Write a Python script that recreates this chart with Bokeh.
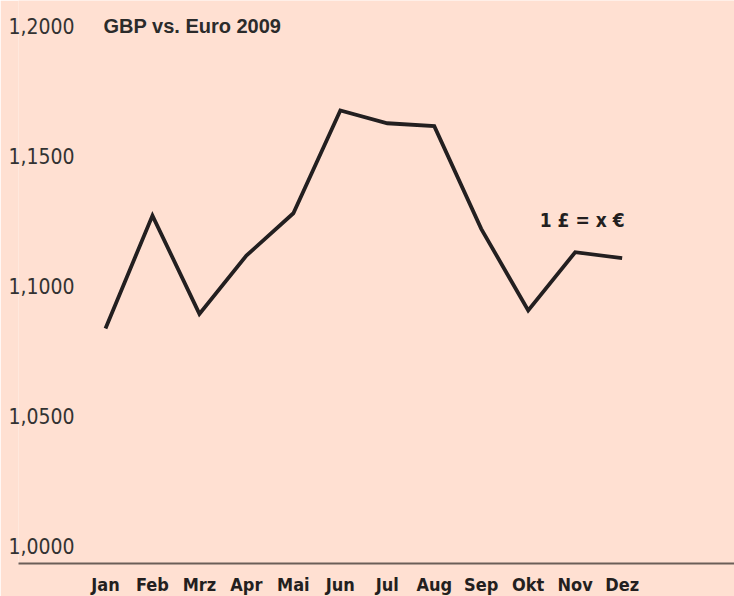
from bokeh.plotting import figure
from bokeh.models import Range1d, FixedTicker, Label
from bokeh.embed import file_html
from bokeh.resources import INLINE

months = ["Jan", "Feb", "Mrz", "Apr", "Mai", "Jun", "Jul", "Aug", "Sep", "Okt", "Nov", "Dez"]
rates = [1.0835, 1.1269, 1.0891, 1.1115, 1.1278, 1.1673, 1.1624, 1.1613, 1.1218, 1.0904, 1.1128, 1.1105]
y_ticks = [1.0, 1.05, 1.10, 1.15, 1.20]
y_tick_labels = ["1,0000", "1,0500", "1,1000", "1,1500", "1,2000"]
title_text = "GBP vs. Euro 2009"
series_label = "1 £ = x €"

BG = "#FFE0D2"
INK = "#231F20"
NARROW = "'DejaVu Sans Condensed', 'Roboto Condensed', 'DejaVu Sans'"

x_idx = list(range(len(months)))

p = figure(
    frame_width=716, frame_height=563,
    x_range=Range1d(-1.852, 13.392),
    y_range=Range1d(0.99308, 1.20962),
    output_backend="svg", toolbar_location=None,
    background_fill_color=BG, border_fill_color=BG,
    min_border_left=18, min_border_right=0, min_border_top=0, min_border_bottom=0,
)
p.outline_line_color = None
p.grid.visible = False

p.line(x_idx, rates, line_color=INK, line_width=3.8, line_join="miter")

# x axis
p.xaxis.ticker = FixedTicker(ticks=x_idx)
p.xaxis.major_label_overrides = {i: m for i, m in zip(x_idx, months)}
p.xaxis.axis_line_color = "#6B5E58"
p.xaxis.axis_line_width = 2
p.xaxis.major_tick_line_color = None
p.xaxis.minor_tick_line_color = None
p.xaxis.major_tick_out = 0
p.xaxis.major_tick_in = 0
p.xaxis.major_label_standoff = 10
p.xaxis.major_label_text_font = NARROW
p.xaxis.major_label_text_font_style = "bold"
p.xaxis.major_label_text_font_size = "18px"
p.xaxis.major_label_text_color = INK

# y axis (labels drawn inside the frame)
p.yaxis.ticker = FixedTicker(ticks=y_ticks)
p.yaxis.major_label_overrides = {t: s for t, s in zip(y_ticks, y_tick_labels)}
p.yaxis.axis_line_color = None
p.yaxis.major_tick_line_color = None
p.yaxis.minor_tick_line_color = None
p.yaxis.major_tick_out = 0
p.yaxis.major_tick_in = 0
p.yaxis.major_label_standoff = -56
p.yaxis.major_label_text_align = "right"
p.yaxis.major_label_text_font = NARROW
p.yaxis.major_label_text_font_size = "21px"
p.yaxis.major_label_text_color = "#333333"

p.add_layout(Label(x=x_idx[0], y=y_ticks[-1], text=title_text, x_offset=-2,
                   text_align="left", text_baseline="middle",
                   text_font="Liberation Sans", text_font_style="bold",
                   text_font_size="20px", text_color="#2B2B2B"))

p.add_layout(Label(x=x_idx[10], y=rates[10], text=series_label, x_offset=7, y_offset=32,
                   text_align="center", text_baseline="middle",
                   text_font=NARROW, text_font_style="bold",
                   text_font_size="19px", text_color=INK))

open("out.html", "w").write(file_html(p, INLINE))
